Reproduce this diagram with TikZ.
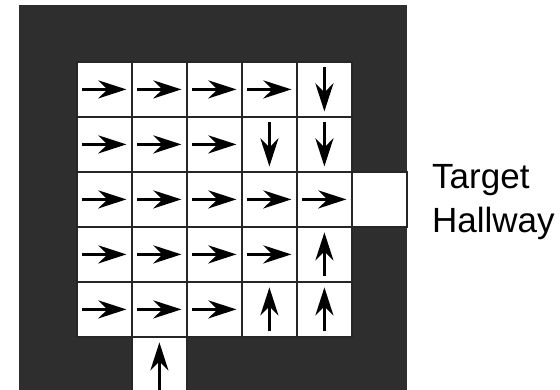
\documentclass[tikz,border=0pt]{standalone}
\usepackage{fontspec}
\setmainfont{Liberation Sans}
\usetikzlibrary{arrows.meta}
\begin{document}
\begin{tikzpicture}[x=1pt,y=-1pt,
  cell/.style={draw=black!85, line width=1.8pt, fill=white, minimum size=55pt, inner sep=0pt, anchor=north west},
  pol/.style={line width=2.8pt, black, -{Stealth[length=28pt,width=18pt,inset=9pt]}},
  lbl/.style={anchor=base west, inner sep=0pt, font=\fontsize{35}{42}\selectfont}]
\useasboundingbox (0,0) rectangle (560,390);
\fill[black!82] (19,5) rectangle (407,390);
% grid cells with policy arrows
\foreach \r/\row in {1/{1/0,1/0,1/0,1/0,0/1},
                     2/{1/0,1/0,1/0,0/1,0/1},
                     3/{1/0,1/0,1/0,1/0,1/0},
                     4/{1/0,1/0,1/0,1/0,0/-1},
                     5/{1/0,1/0,1/0,0/-1,0/-1}}{
  \foreach \dx/\dy [count=\c] in \row {
    \node[cell] (c\r\c) at ({76+55*(\c-1)},{61+55*(\r-1)}) {};
    \draw[pol] ([shift={({-22*\dx},{-22*\dy})}]c\r\c.center) -- ([shift={({22*\dx},{22*\dy})}]c\r\c.center);
  }
}
% hallway (target) cell
\node[cell] (hall) at (351,171) {};
% entry cell at the bottom
\node[cell] (entry) at (131,336) {};
\draw[pol] ([shift={(0,30)}]entry.center) -- ([shift={(0,-22)}]entry.center);
% label
\node[lbl] (t1) at (432,189) {Target};
\node[lbl] (t2) at (432,233) {Hallway};
\end{tikzpicture}
\end{document}
